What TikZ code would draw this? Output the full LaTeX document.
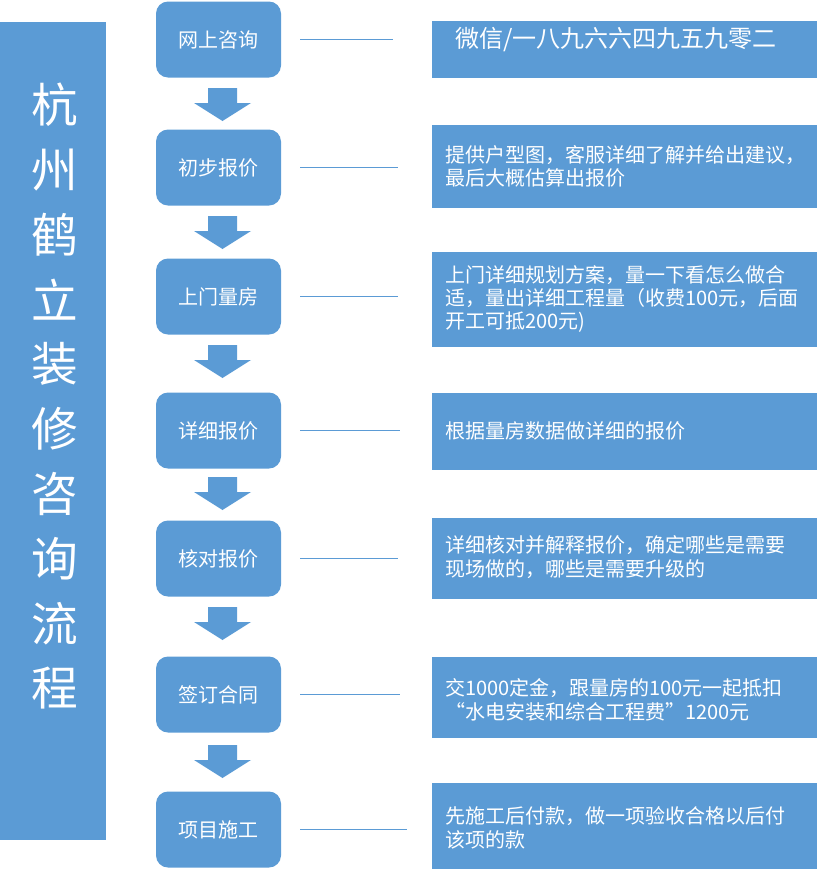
\documentclass[tikz,border=0pt]{standalone}
\usepackage{fontspec}
\setmainfont{Noto Sans CJK SC}
\begin{document}
\begin{tikzpicture}[x=0.75pt,y=-0.75pt,
  bfill/.style={fill=bl,draw=none},
  stepbox/.style={bfill,rounded corners=9pt,minimum width=93.75pt,minimum height=57pt,text=white,font=\fontsize{15pt}{17pt}\selectfont,inner sep=0pt},
  infotext/.style={text=white,font=\fontsize{15pt}{17.5pt}\selectfont,align=left,text width=280pt,anchor=west,inner sep=0pt},
  conn/.style={draw=bl,line width=0.9pt}]
\definecolor{bl}{HTML}{5B9BD5}
\useasboundingbox (0,0) rectangle (817,872);
\fill[bl] (0,22) rectangle (106,840);
\foreach \c [count=\i from 0] in {杭,州,鹤,立,装,修,咨,询,流,程}
  \node[text=white,font=\fontsize{35pt}{36pt}\selectfont] (t\i) at (55,{105+64.8*\i}) {\c};
\foreach \n/\y/\t/\ra/\rb/\le in {
 a/39.5/网上咨询/21/78/393,
 b/167.5/初步报价/125/208/398,
 c/296.5/上门量房/252/347/398,
 d/430.5/详细报价/393/470/400,
 e/558.5/核对报价/518/599/398,
 f/694.5/签订合同/657/738/400,
 g/829.5/项目施工/783/869/407}{
  \node[stepbox] (s\n) at (218.5,\y) {\t};
  \fill[bl] (432,\ra) rectangle (817,\rb);
  \coordinate (l\n) at (300,\y);
  \coordinate (r\n) at (\le,\y);
  \draw[conn] (l\n) -- (r\n);
}
\node[text=white,font=\fontsize{18pt}{20pt}\selectfont] (ia) at (616,39.5) {微信/一八九六六四九五九零二};
\node[infotext] (ib) at (445,166.5) {提供户型图，客服详细了解并给出建议，\\最后大概估算出报价};
\node[infotext] (ic) at (445,299) {上门详细规划方案，量一下看怎么做合\\适，量出详细工程量（收费100元，后面\\开工可抵200元)};
\node[infotext] (id) at (445,431) {根据量房数据做详细的报价};
\node[infotext] (ie) at (445,557) {详细核对并解释报价，确定哪些是需要\\现场做的，哪些是需要升级的};
\node[infotext] (if) at (445,700) {交1000定金，跟量房的100元一起抵扣\\“水电安装和综合工程费”1200元};
\node[infotext] (ig) at (445,828) {先施工后付款，做一项验收合格以后付\\该项的款};
\foreach \t in {88,216,345,477,607,745}{
  \fill[bl] (208,\t) -- (237,\t) -- (237,\t+15) -- (251,\t+15) -- (222.5,\t+33) -- (194,\t+15) -- (208,\t+15) -- cycle;
}
\end{tikzpicture}
\end{document}
